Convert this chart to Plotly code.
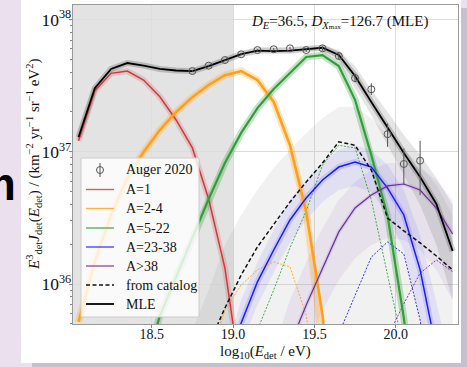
import plotly.graph_objects as go

# ---------------- data ----------------
E = [18.05, 18.15, 18.25, 18.35, 18.45, 18.55, 18.65, 18.75, 18.85, 18.95, 19.05, 19.15,
     19.25, 19.35, 19.45, 19.55, 19.65, 19.75, 19.85, 19.95, 20.05, 20.15, 20.25, 20.35]

mle = [1.29e37, 3.03e37, 4.23e37, 4.69e37, 4.49e37, 4.23e37, 4.12e37, 4.08e37, 4.45e37, 4.94e37,
       5.48e37, 5.83e37, 5.78e37, 5.83e37, 5.98e37, 6.12e37, 5.39e37, 3.74e37, 2.38e37, 1.51e37,
       9.8e36, 6.46e36, 4.03e36, 1.78e36]

E_a1 = E[0:11]
a1 = [1.21e37, 2.90e37, 3.92e37, 4.08e37, 3.49e37, 2.61e37, 1.74e37, 1.07e37, 4.4e36, 1.32e36, 1.88e35]

E_a2 = E[0:17]
a2 = [5.18e35, 1.47e36, 3.33e36, 6.34e36, 9.97e36, 1.46e37, 2.00e37, 2.59e37, 3.20e37, 3.80e37,
      4.08e37, 3.49e37, 2.38e37, 1.12e37, 3.51e36, 5.84e35, 3.3e34]

E_a3 = E[4:22]
a3 = [2.24e35, 5.74e35, 1.13e36, 2.23e36, 4.4e36, 8.22e36, 1.39e37, 2.14e37, 2.98e37, 3.94e37,
      5.21e37, 5.39e37, 4.45e37, 2.47e37, 9.46e36, 3.27e36, 5.55e35, 5.6e34]

E_a4 = E[9:24]
a4 = [2.24e35, 5.08e35, 1.04e36, 1.81e36, 3.05e36, 4.48e36, 6.12e36, 7.67e36, 8.38e36, 7.67e36,
      5.32e36, 3.33e36, 1.28e36, 3.18e35, 4.7e34]

E_a5 = E[12:24]
a5 = [1.33e35, 3.47e35, 6.95e35, 1.32e36, 2.48e36, 3.76e36, 4.71e36, 5.52e36, 5.71e36, 5.14e36,
      3.76e36, 2.39e36]

E_cat = E[7:24]
cat = [1.5e35, 3.47e35, 6.59e35, 1.17e36, 1.91e36, 2.80e36, 4.17e36, 5.92e36, 8.22e36, 1.19e37,
       1.12e37, 7.28e36, 3.16e36, 2.52e36, 2.05e36, 1.63e36, 1.28e36]

E_cat2 = E[8:16]
cat_a2 = [2.67e35, 6.37e35, 9.84e35, 1.28e36, 1.47e36, 1.35e36, 5.84e35, 7.9e34]
E_cat3 = E[10:21]
cat_a3 = [1.33e35, 4.50e35, 9.02e35, 1.88e36, 3.57e36, 7.94e36, 1.12e37, 1.07e37, 4.33e36, 1.19e36, 3.18e35]
E_cat4 = E[16:23]
cat_a4 = [4.20e35, 8.13e35, 1.60e36, 2.08e36, 1.69e36, 5.36e35, 6.6e34]
E_cat5 = E[18:24]
cat_a5 = [2.58e35, 4.0e35, 7.1e35, 1.21e36, 1.52e36, 1.24e36]

# Auger 2020 data
E_aug = [18.75, 18.85, 18.95, 19.05, 19.15, 19.25, 19.35, 19.45, 19.55, 19.65, 19.75, 19.85,
         19.95, 20.05, 20.15]
aug = [4.08e37, 4.48e37, 4.94e37, 5.46e37, 5.88e37, 5.96e37, 6.06e37, 5.88e37, 6.06e37, 5.30e37,
       3.61e37, 2.97e37, 1.36e37, 8.09e36, 8.57e36]
aug_hi = [4.14e37, 4.55e37, 5.02e37, 5.56e37, 6.0e37, 6.1e37, 6.22e37, 6.06e37, 6.3e37, 5.6e37,
          3.9e37, 3.30e37, 1.64e37, 1.06e37, 1.21e37]
aug_lo = [4.02e37, 4.41e37, 4.86e37, 5.36e37, 5.76e37, 5.82e37, 5.9e37, 5.7e37, 5.82e37, 5.0e37,
          3.35e37, 2.69e37, 1.09e37, 5.61e36, 4.71e36]

# posterior-sample spreads (envelopes)
E_gray = E[7:24]
gray_hi = [4.5e35, 9.0e35, 1.98e36, 3.33e36, 5.14e36, 7.55e36, 1.03e37, 1.39e37, 1.80e37, 2.18e37,
           2.18e37, 1.80e37, 1.34e37, 1.03e37, 7.94e36, 5.61e36, 3.33e36]
gray_lo = [5e34] * 17

E_bb = E[9:24]
blue_hi = [2.67e35, 7.59e35, 1.47e36, 2.56e36, 4.33e36, 6.12e36, 8.22e36, 1.03e37, 1.12e37, 1.03e37,
           7.94e36, 5.14e36, 2.35e36, 7.59e35, 2.24e35]
blue_lo = [9.4e34, 3.47e35, 6.95e35, 1.23e36, 2.05e36, 3.05e36, 4.17e36, 5.14e36, 5.52e36, 4.97e36,
           3.33e36, 1.81e36, 5.36e35, 6.6e34, 2.3e34]

E_pb = E[12:24]
purp_hi = [3.18e35, 7.59e35, 1.47e36, 2.65e36, 4.33e36, 5.92e36, 7.28e36, 8.22e36, 8.22e36, 7.55e36,
           6.12e36, 4.33e36]
purp_lo = [5.6e34, 1.33e35, 3.18e35, 6.37e35, 1.07e36, 1.57e36, 1.98e36, 2.23e36, 2.15e36, 1.81e36,
           1.28e36, 7.59e35]

E_mb = E[15:24]
mle_hi = [6.42e37, 5.88e37, 4.45e37, 2.93e37, 2.00e37, 1.34e37, 9.46e36, 6.34e36, 3.96e36]
mle_lo = [5.68e37, 4.77e37, 3.03e37, 1.90e37, 1.12e37, 6.68e36, 3.96e36, 1.98e36, 7.59e35]

x_ticks = [18.5, 19.0, 19.5, 20.0]
x_tick_labels = ["18.5", "19.0", "19.5", "20.0"]

legend_labels = ["Auger 2020", "A=1", "A=2-4", "A=5-22", "A=23-38", "A>38", "from catalog", "MLE"]

# ---------------- styles ----------------
SERIF = "Liberation Serif, DejaVu Serif, serif"
C_RED, C_ORA, C_GRN, C_BLU, C_PUR = "#d0393b", "#ffa01a", "#339d3d", "#1a1aff", "#6b2f9e"

fig = go.Figure()


def band(x, hi, lo, color):
    fig.add_trace(go.Scatter(x=x, y=hi, mode="lines", line=dict(width=0), showlegend=False,
                             hoverinfo="skip"))
    fig.add_trace(go.Scatter(x=x, y=lo, mode="lines", line=dict(width=0), fill="tonexty",
                             fillcolor=color, showlegend=False, hoverinfo="skip"))


band(E_gray, gray_hi, gray_lo, "rgba(140,140,140,0.12)")
band(E_pb, purp_hi, purp_lo, "rgba(120,70,170,0.09)")
band(E_bb, blue_hi, blue_lo, "rgba(60,60,255,0.09)")
band(E_mb, mle_hi, mle_lo, "rgba(110,110,110,0.18)")

# glows
for xx, yy, col, w in [(E_a1, a1, "rgba(200,80,80,0.22)", 6),
                       (E_a2, a2, "rgba(255,165,40,0.30)", 7),
                       (E_a3, a3, "rgba(60,160,60,0.30)", 7),
                       (E_a4, a4, "rgba(60,60,255,0.16)", 6),
                       (E_a5, a5, "rgba(110,50,160,0.12)", 4),
                       (E, mle, "rgba(90,90,90,0.30)", 6)]:
    fig.add_trace(go.Scatter(x=xx, y=yy, mode="lines", line=dict(color=col, width=w),
                             showlegend=False, hoverinfo="skip"))

# catalog components (thin dashed)
for xx, yy, col in [(E_cat2, cat_a2, C_ORA), (E_cat3, cat_a3, C_GRN),
                    (E_cat4, cat_a4, C_BLU), (E_cat5, cat_a5, C_PUR)]:
    fig.add_trace(go.Scatter(x=xx, y=yy, mode="lines",
                             line=dict(color=col, width=0.9, dash="2px,1.5px"),
                             showlegend=False, hoverinfo="skip"))

# main lines
main = [(E_a1, a1, "A=1", dict(color=C_RED, width=1.5)),
        (E_a2, a2, "A=2-4", dict(color=C_ORA, width=2.6)),
        (E_a3, a3, "A=5-22", dict(color=C_GRN, width=2.2)),
        (E_a4, a4, "A=23-38", dict(color=C_BLU, width=1.5)),
        (E_a5, a5, "A>38", dict(color=C_PUR, width=1.2)),
        (E_cat, cat, "from catalog", dict(color="#111111", width=1.5, dash="4px,2.5px")),
        (E, mle, "MLE", dict(color="#000000", width=1.8))]
for xx, yy, nm, ln in main:
    fig.add_trace(go.Scatter(x=xx, y=yy, mode="lines", name=nm, line=ln, showlegend=False))

err_plus = [h - v for h, v in zip(aug_hi, aug)]
err_minus = [v - l for v, l in zip(aug, aug_lo)]
fig.add_trace(go.Scatter(x=E_aug, y=aug, mode="markers", name="Auger 2020", showlegend=False,
                         marker=dict(symbol="circle-open", size=7, color="#555555",
                                     line=dict(width=1, color="#555555")),
                         error_y=dict(type="data", array=err_plus, arrayminus=err_minus,
                                      color="#555555", thickness=1, width=0)))

# ---------------- layout ----------------
L, R, T, B = 73, 9, 5, 43
W, H = 467, 367
PW, PH = W - L - R, H - T - B


def px(xp):
    return (xp - L) / PW


def py(yp):
    return (H - B - yp) / PH


shapes = [
    dict(type="rect", xref="paper", yref="paper", x0=px(32), x1=px(480), y0=py(380), y1=py(8),
         fillcolor="#c6bfcc", line=dict(width=0), layer="below"),
    dict(type="rect", xref="paper", yref="paper", x0=px(21), x1=px(461), y0=py(363), y1=py(-10),
         fillcolor="#ffffff", line=dict(width=0), layer="below"),
    dict(type="rect", xref="x", yref="paper", x0=18.0, x1=19.0, y0=0, y1=1,
         fillcolor="#e3e3e3", line=dict(width=0), layer="below"),
]

annotations = [
    dict(text="<i>D</i><sub><i>E</i></sub>=36.5, <i>D</i><sub><i>X</i><span style='font-size:7px'>max</span></sub>=126.7 (MLE)",
         xref="paper", yref="paper", x=px(339), y=py(22), showarrow=False,
         font=dict(family=SERIF, size=15, color="#111"), xanchor="center", yanchor="middle"),
    dict(text="log<sub>10</sub>(<i>E</i><sub>det</sub> / eV)", xref="paper", yref="paper",
         x=px(265), y=py(352), showarrow=False, font=dict(family=SERIF, size=15, color="#111"),
         xanchor="center", yanchor="middle"),
    dict(text="<i>E</i><sup>3</sup><sub>det</sub><i>J</i><sub>det</sub>(<i>E</i><sub>det</sub>) / (km<sup>−2</sup> yr<sup>−1</sup> sr<sup>−1</sup> eV<sup>2</sup>)",
         xref="paper", yref="paper", x=px(34), y=py(165), showarrow=False, textangle=-90,
         font=dict(family=SERIF, size=15, color="#111"), xanchor="center", yanchor="middle"),
    dict(text="<b>m</b>", xref="paper", yref="paper", x=px(18), y=py(184), showarrow=False,
         font=dict(family="Liberation Sans", size=46, color="#000"), xanchor="right",
         yanchor="middle"),
]

# legend (box, samples, labels)
LEG_X0, LEG_X1, LEG_Y0, LEG_Y1 = 81, 199, 158, 317
row_y = [170, 189.5, 208.5, 228, 247, 266, 285, 304]
shapes.append(dict(type="rect", xref="paper", yref="paper", x0=px(LEG_X0), x1=px(LEG_X1),
                   y0=py(LEG_Y1), y1=py(LEG_Y0), fillcolor="rgba(255,255,255,0.82)",
                   line=dict(color="#cccccc", width=1), layer="above"))
sample_styles = [None,
                 dict(color=C_RED, width=1.4),
                 dict(color=C_ORA, width=1.4),
                 dict(color=C_GRN, width=1.4),
                 dict(color=C_BLU, width=1.4),
                 dict(color=C_PUR, width=1.4),
                 dict(color="#111111", width=1.4, dash="4px,2.5px"),
                 dict(color="#000000", width=1.8)]
for i, (lab, st) in enumerate(zip(legend_labels, sample_styles)):
    yy = row_y[i]
    if st is None:
        shapes.append(dict(type="line", xref="paper", yref="paper", x0=px(100), x1=px(100),
                           y0=py(yy + 7), y1=py(yy - 7), line=dict(color="#555555", width=1),
                           layer="above"))
        shapes.append(dict(type="circle", xref="paper", yref="paper", x0=px(96.5), x1=px(103.5),
                           y0=py(yy + 3.5), y1=py(yy - 3.5), fillcolor="rgba(255,255,255,0)",
                           line=dict(color="#555555", width=1), layer="above"))
    else:
        shapes.append(dict(type="line", xref="paper", yref="paper", x0=px(86), x1=px(114),
                           y0=py(yy), y1=py(yy), line=st, opacity=0.8 if i < 6 else 1,
                           layer="above"))
    annotations.append(dict(text=lab, xref="paper", yref="paper", x=px(124), y=py(yy),
                            xanchor="left", yanchor="middle", showarrow=False,
                            font=dict(family=SERIF, size=14, color="#111")))

fig.update_layout(
    width=W, height=H, margin=dict(l=L, r=R, t=T, b=B, autoexpand=False),
    paper_bgcolor="#ebe1ee", plot_bgcolor="rgba(0,0,0,0)",
    shapes=shapes, annotations=annotations,
    font=dict(family=SERIF, size=14, color="#111"),
    showlegend=False,
)
fig.update_xaxes(range=[18.016, 20.383], tickvals=x_ticks, ticktext=x_tick_labels,
                 showgrid=True, gridcolor="#dddddd", gridwidth=1, zeroline=False,
                 showline=True, linecolor="#999999", linewidth=1, mirror=True,
                 ticks="outside", ticklen=3, tickcolor="#888888", automargin=False,
                 ticklabelstandoff=-6,
                 tickfont=dict(family=SERIF, size=14, color="#111"))
fig.update_yaxes(type="log", range=[35.698, 38.110], dtick=1, exponentformat="power",
                 showgrid=True, gridcolor="#dddddd", gridwidth=1, zeroline=False,
                 showline=True, linecolor="#999999", linewidth=1, mirror=True,
                 ticks="outside", ticklen=3, tickcolor="#888888", automargin=False,
                 ticklabelstandoff=-5,
                 minor=dict(ticks="outside", ticklen=2, tickcolor="#888888", showgrid=False),
                 tickfont=dict(family=SERIF, size=14, color="#111"))

fig.write_html("out.html", config={"displayModeBar": False, "staticPlot": True},
               post_script="document.body.style.margin='0px';document.body.style.padding='0px';")
